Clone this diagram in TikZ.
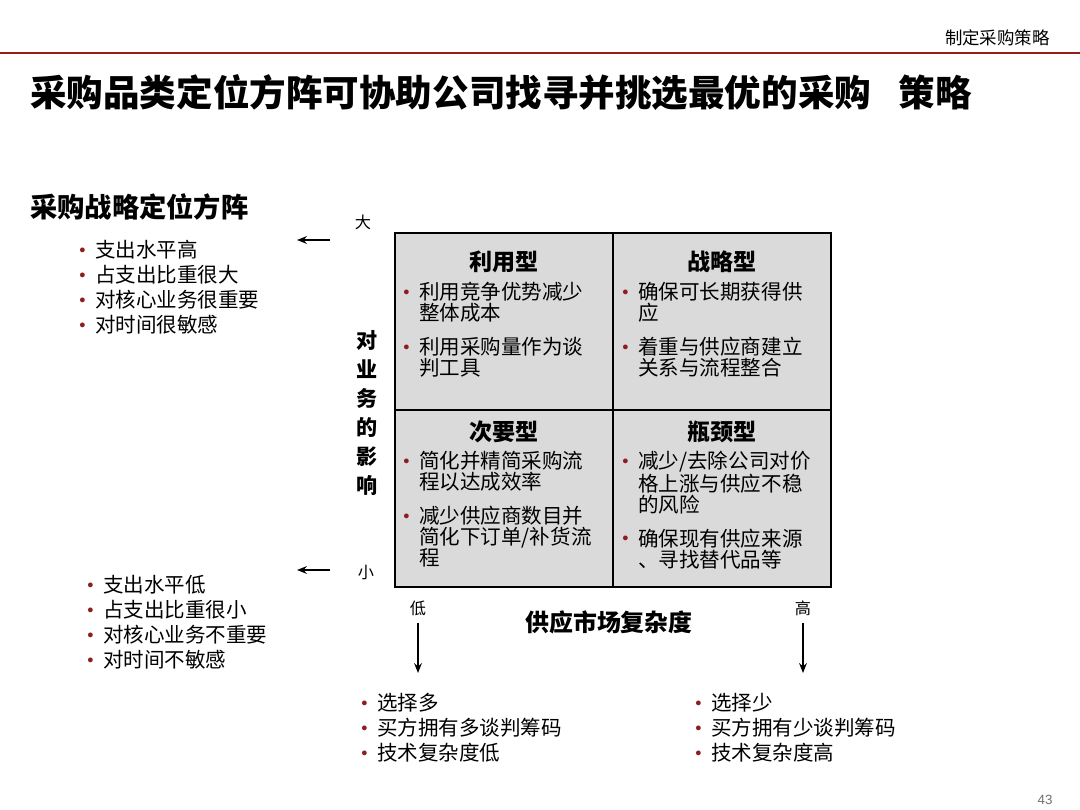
\documentclass[tikz,border=0pt]{standalone}
\usepackage{fontspec}
\usepackage{graphicx}
\setmainfont{Noto Sans CJK SC}
\newfontfamily\dotfont{DejaVu Sans}
\newfontfamily\numfont{Liberation Sans}
\usetikzlibrary{positioning,arrows.meta,calc}
\definecolor{RuleRed}{RGB}{150,28,28}
\definecolor{BulletRed}{RGB}{140,30,30}
\definecolor{QuadGray}{RGB}{218,218,218}
\definecolor{PageGray}{RGB}{110,110,110}
\newcommand{\bul}{\makebox[12.5pt][l]{\raisebox{0.8pt}{\dotfont\color{BulletRed}\scalebox{0.8}{•}}}}
\newcommand{\cont}{\hspace*{12.5pt}}
\tikzset{
  listtext/.style={anchor=north west,inner sep=0pt,align=left,
    font=\fontsize{14.6}{17.8}\selectfont},
  quadtext/.style={anchor=north west,inner sep=0pt,align=left,
    font=\fontsize{14.6}{14.9}\selectfont},
  quadbox/.style={draw=black,line width=1.1pt,fill=QuadGray,
    minimum width=5.45cm,minimum height=4.425cm,outer sep=0pt,inner sep=0pt},
  quadtitle/.style={inner sep=0pt,font=\fontsize{16.4}{18}\selectfont\bfseries},
  axislabel/.style={inner sep=0pt,font=\fontsize{11.5}{12}\selectfont},
  axisarrow/.style={-{Stealth[length=7pt,width=5.5pt]},line width=0.9pt}
}

\begin{document}
\begin{tikzpicture}[x=0.025cm,y=-0.025cm]
  \useasboundingbox (0,0) rectangle (1080,810);
  % header
  \node[anchor=east,inner sep=0pt,font=\fontsize{12.4}{14}\selectfont] (section) at (1050,38) {制定采购策略};
  \draw[RuleRed,line width=2.1pt] (0,53) -- (1080,53);
  \node[anchor=west,inner sep=0pt,font=\fontsize{26}{30}\selectfont\bfseries] (title) at (30,93)
    {采购品类定位方阵可协助公司找寻并挑选最优的采购\hspace{0.75em}策略};
  \node[anchor=west,inner sep=0pt,font=\fontsize{19.4}{22}\selectfont\bfseries] (subtitle) at (30,207) {采购战略定位方阵};

  % left side: high / low impact
  \node[listtext] (hilist) at (77.4,240) {\bul 支出水平高\\ \bul 占支出比重很大\\ \bul 对核心业务很重要\\ \bul 对时间很敏感};
  \node[listtext] (lolist) at (85.4,575) {\bul 支出水平低\\ \bul 占支出比重很小\\ \bul 对核心业务不重要\\ \bul 对时间不敏感};
  \coordinate (hitail) at (330,240);
  \coordinate (hitip) at (297,240);
  \coordinate (lotail) at (330,570);
  \coordinate (lotip) at (297,570);
  \draw[axisarrow] (hitail) -- (hitip);
  \draw[axisarrow] (lotail) -- (lotip);
  \node[axislabel] (big) at (363,222) {大};
  \node[axislabel] (small) at (366,572) {小};
  \node[anchor=north,inner sep=0pt,align=center,font=\fontsize{15}{20.6}\selectfont\bfseries] (impact) at (367,330)
    {对\\业\\务\\的\\影\\响};

  % matrix
  \node[quadbox,anchor=north west] (q1) at (395,233) {};
  \node[quadbox,right=0pt of q1] (q2) {};
  \node[quadbox,below=0pt of q1] (q3) {};
  \node[quadbox,right=0pt of q3] (q4) {};
  \node[quadtitle] (t1) at ($(q1.north)+(0,29)$) {利用型};
  \node[quadtitle] (t2) at ($(q2.north)+(0,29)$) {战略型};
  \node[quadtitle] (t3) at ($(q3.north)+(0,22)$) {次要型};
  \node[quadtitle] (t4) at ($(q4.north)+(0,22)$) {瓶颈型};
  \node[quadtext] (l1) at ($(q1.north west)+(6.4,49)$)
    {\bul 利用竞争优势减少\\ \cont 整体成本\\[9.2pt] \bul 利用采购量作为谈\\ \cont 判工具};
  \node[quadtext] (l2) at ($(q2.north west)+(7.4,49)$)
    {\bul 确保可长期获得供\\ \cont 应\\[9.2pt] \bul 着重与供应商建立\\ \cont 关系与流程整合};
  \node[quadtext] (l3) at ($(q3.north west)+(6.4,41)$)
    {\bul 简化并精简采购流\\ \cont 程以达成效率\\[9.2pt] \bul 减少供应商数目并\\ \cont 简化下订单/补货流\\ \cont 程};
  \node[quadtext] (l4) at ($(q4.north west)+(7.4,41)$)
    {\bul 减少/去除公司对价\\ \cont 格上涨与供应不稳\\ \cont 的风险\\[9.2pt] \bul 确保现有供应来源\\ \cont 、寻找替代品等};

  % bottom: supply market complexity
  \node[axislabel] (low) at (418,608) {低};
  \node[axislabel] (high) at (803,608) {高};
  \node[inner sep=0pt,font=\fontsize{17}{20}\selectfont\bfseries] (market) at (609,622) {供应市场复杂度};
  \coordinate (lowtip) at (418,673);
  \coordinate (hightip) at (803,673);
  \draw[axisarrow] ([yshift=-5pt]low.south) -- (lowtip);
  \draw[axisarrow] ([yshift=-5pt]high.south) -- (hightip);
  \node[listtext] (lowlist) at (359.4,693) {\bul 选择多\\ \bul 买方拥有多谈判筹码\\ \bul 技术复杂度低};
  \node[listtext] (highlist) at (693.4,693) {\bul 选择少\\ \bul 买方拥有少谈判筹码\\ \bul 技术复杂度高};

  \node[text=PageGray,inner sep=0pt,font=\numfont\fontsize{9.5}{10}\selectfont] (pagenum) at (1045,800) {43};
\end{tikzpicture}
\end{document}
